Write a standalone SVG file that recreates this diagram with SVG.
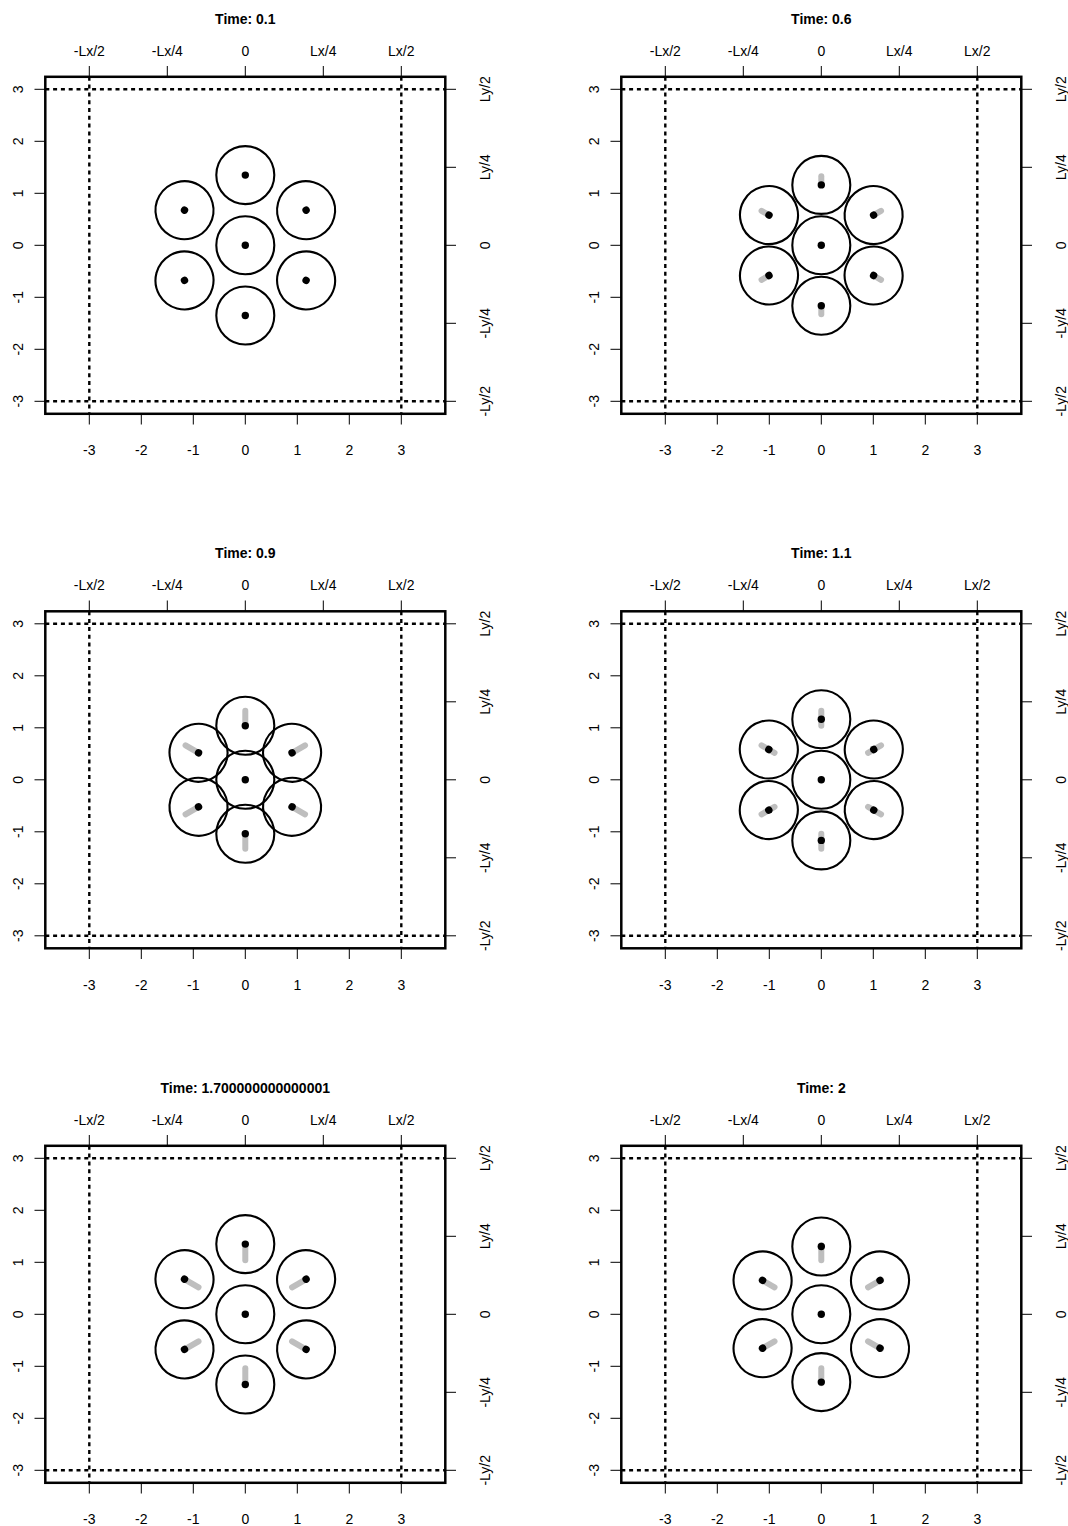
<svg xmlns="http://www.w3.org/2000/svg" width="1068" height="1526" viewBox="0 0 1068 1526">
<style>
.bg{fill:#fff}
.box{fill:none;stroke:#000;stroke-width:2.5}
.dash{fill:none;stroke:#000;stroke-width:2.4;stroke-dasharray:4 3.8}
.tick{fill:none;stroke:#000;stroke-width:1}
.lbl{font-family:"Liberation Sans",Arial,sans-serif;font-size:14px;fill:#000;text-anchor:middle}
.ttl{font-family:"Liberation Sans",Arial,sans-serif;font-size:14px;font-weight:bold;fill:#000;text-anchor:middle}
.ring{fill:none;stroke:#000;stroke-width:2.1}
.trail{fill:none;stroke:#bebebe;stroke-width:6;stroke-linecap:round}
.dot{fill:#000}
</style>
<defs>
<g id="frame">
<rect class="box" x="45.3" y="76.8" width="400" height="337"/>
<path class="dash" d="M89.3 76.8V413.8M401.3 76.8V413.8M45.3 89.3H445.3M45.3 401.3H445.3"/>
<path class="tick" d="M89.3 413.8V424.5M141.3 413.8V424.5M193.3 413.8V424.5M245.3 413.8V424.5M297.3 413.8V424.5M349.3 413.8V424.5M401.3 413.8V424.5M34.5 89.3H45.3M34.5 141.3H45.3M34.5 193.3H45.3M34.5 245.3H45.3M34.5 297.3H45.3M34.5 349.3H45.3M34.5 401.3H45.3M89.3 66V76.8M167.3 66V76.8M245.3 66V76.8M323.3 66V76.8M401.3 66V76.8M445.3 89.3H456M445.3 167.3H456M445.3 245.3H456M445.3 323.3H456M445.3 401.3H456"/>
<text class="lbl" x="89.3" y="455">-3</text>
<text class="lbl" x="141.3" y="455">-2</text>
<text class="lbl" x="193.3" y="455">-1</text>
<text class="lbl" x="245.3" y="455">0</text>
<text class="lbl" x="297.3" y="455">1</text>
<text class="lbl" x="349.3" y="455">2</text>
<text class="lbl" x="401.3" y="455">3</text>
<text class="lbl" x="89.3" y="55.5">-Lx/2</text>
<text class="lbl" x="167.3" y="55.5">-Lx/4</text>
<text class="lbl" x="245.3" y="55.5">0</text>
<text class="lbl" x="323.3" y="55.5">Lx/4</text>
<text class="lbl" x="401.3" y="55.5">Lx/2</text>
<text class="lbl" transform="translate(23 89.3) rotate(-90)">3</text>
<text class="lbl" transform="translate(23 141.3) rotate(-90)">2</text>
<text class="lbl" transform="translate(23 193.3) rotate(-90)">1</text>
<text class="lbl" transform="translate(23 245.3) rotate(-90)">0</text>
<text class="lbl" transform="translate(23 297.3) rotate(-90)">-1</text>
<text class="lbl" transform="translate(23 349.3) rotate(-90)">-2</text>
<text class="lbl" transform="translate(23 401.3) rotate(-90)">-3</text>
<text class="lbl" transform="translate(490 89.3) rotate(-90)">Ly/2</text>
<text class="lbl" transform="translate(490 167.3) rotate(-90)">Ly/4</text>
<text class="lbl" transform="translate(490 245.3) rotate(-90)">0</text>
<text class="lbl" transform="translate(490 323.3) rotate(-90)">-Ly/4</text>
<text class="lbl" transform="translate(490 401.3) rotate(-90)">-Ly/2</text>
</g>
</defs>
<rect class="bg" x="0" y="0" width="1068" height="1526"/>

<g id="panel-1" transform="translate(0 0)">
<use href="#frame"/>
<text class="ttl" x="245.3" y="23.5">Time: 0.1</text>
<g id="p1-c"><circle class="ring" cx="245.3" cy="245.3" r="29"/><circle class="dot" cx="245.3" cy="245.3" r="3.7"/></g>
<g id="p1-n1" transform="rotate(0 245.3 245.3)"><circle class="ring" cx="245.3" cy="175.1" r="29"/><circle class="dot" cx="245.3" cy="175.1" r="3.7"/></g>
<g id="p1-n2" transform="rotate(60 245.3 245.3)"><circle class="ring" cx="245.3" cy="175.1" r="29"/><circle class="dot" cx="245.3" cy="175.1" r="3.7"/></g>
<g id="p1-n3" transform="rotate(120 245.3 245.3)"><circle class="ring" cx="245.3" cy="175.1" r="29"/><circle class="dot" cx="245.3" cy="175.1" r="3.7"/></g>
<g id="p1-n4" transform="rotate(180 245.3 245.3)"><circle class="ring" cx="245.3" cy="175.1" r="29"/><circle class="dot" cx="245.3" cy="175.1" r="3.7"/></g>
<g id="p1-n5" transform="rotate(240 245.3 245.3)"><circle class="ring" cx="245.3" cy="175.1" r="29"/><circle class="dot" cx="245.3" cy="175.1" r="3.7"/></g>
<g id="p1-n6" transform="rotate(300 245.3 245.3)"><circle class="ring" cx="245.3" cy="175.1" r="29"/><circle class="dot" cx="245.3" cy="175.1" r="3.7"/></g>
</g>

<g id="panel-2" transform="translate(576 0)">
<use href="#frame"/>
<text class="ttl" x="245.3" y="23.5">Time: 0.6</text>
<g id="p2-c"><circle class="ring" cx="245.3" cy="245.3" r="29"/><circle class="dot" cx="245.3" cy="245.3" r="3.7"/></g>
<g id="p2-n1" transform="rotate(0 245.3 245.3)"><circle class="ring" cx="245.3" cy="184.9" r="29"/><line class="trail" x1="245.3" y1="184.9" x2="245.3" y2="176.3"/><circle class="dot" cx="245.3" cy="184.9" r="3.7"/></g>
<g id="p2-n2" transform="rotate(60 245.3 245.3)"><circle class="ring" cx="245.3" cy="184.9" r="29"/><line class="trail" x1="245.3" y1="184.9" x2="245.3" y2="176.3"/><circle class="dot" cx="245.3" cy="184.9" r="3.7"/></g>
<g id="p2-n3" transform="rotate(120 245.3 245.3)"><circle class="ring" cx="245.3" cy="184.9" r="29"/><line class="trail" x1="245.3" y1="184.9" x2="245.3" y2="176.3"/><circle class="dot" cx="245.3" cy="184.9" r="3.7"/></g>
<g id="p2-n4" transform="rotate(180 245.3 245.3)"><circle class="ring" cx="245.3" cy="184.9" r="29"/><line class="trail" x1="245.3" y1="184.9" x2="245.3" y2="176.3"/><circle class="dot" cx="245.3" cy="184.9" r="3.7"/></g>
<g id="p2-n5" transform="rotate(240 245.3 245.3)"><circle class="ring" cx="245.3" cy="184.9" r="29"/><line class="trail" x1="245.3" y1="184.9" x2="245.3" y2="176.3"/><circle class="dot" cx="245.3" cy="184.9" r="3.7"/></g>
<g id="p2-n6" transform="rotate(300 245.3 245.3)"><circle class="ring" cx="245.3" cy="184.9" r="29"/><line class="trail" x1="245.3" y1="184.9" x2="245.3" y2="176.3"/><circle class="dot" cx="245.3" cy="184.9" r="3.7"/></g>
</g>

<g id="panel-3" transform="translate(0 534.5)">
<use href="#frame"/>
<text class="ttl" x="245.3" y="23.5">Time: 0.9</text>
<g id="p3-c"><circle class="ring" cx="245.3" cy="245.3" r="29"/><circle class="dot" cx="245.3" cy="245.3" r="3.7"/></g>
<g id="p3-n1" transform="rotate(0 245.3 245.3)"><circle class="ring" cx="245.3" cy="191.3" r="29"/><line class="trail" x1="245.3" y1="191.3" x2="245.3" y2="176.3"/><circle class="dot" cx="245.3" cy="191.3" r="3.7"/></g>
<g id="p3-n2" transform="rotate(60 245.3 245.3)"><circle class="ring" cx="245.3" cy="191.3" r="29"/><line class="trail" x1="245.3" y1="191.3" x2="245.3" y2="176.3"/><circle class="dot" cx="245.3" cy="191.3" r="3.7"/></g>
<g id="p3-n3" transform="rotate(120 245.3 245.3)"><circle class="ring" cx="245.3" cy="191.3" r="29"/><line class="trail" x1="245.3" y1="191.3" x2="245.3" y2="176.3"/><circle class="dot" cx="245.3" cy="191.3" r="3.7"/></g>
<g id="p3-n4" transform="rotate(180 245.3 245.3)"><circle class="ring" cx="245.3" cy="191.3" r="29"/><line class="trail" x1="245.3" y1="191.3" x2="245.3" y2="176.3"/><circle class="dot" cx="245.3" cy="191.3" r="3.7"/></g>
<g id="p3-n5" transform="rotate(240 245.3 245.3)"><circle class="ring" cx="245.3" cy="191.3" r="29"/><line class="trail" x1="245.3" y1="191.3" x2="245.3" y2="176.3"/><circle class="dot" cx="245.3" cy="191.3" r="3.7"/></g>
<g id="p3-n6" transform="rotate(300 245.3 245.3)"><circle class="ring" cx="245.3" cy="191.3" r="29"/><line class="trail" x1="245.3" y1="191.3" x2="245.3" y2="176.3"/><circle class="dot" cx="245.3" cy="191.3" r="3.7"/></g>
</g>

<g id="panel-4" transform="translate(576 534.5)">
<use href="#frame"/>
<text class="ttl" x="245.3" y="23.5">Time: 1.1</text>
<g id="p4-c"><circle class="ring" cx="245.3" cy="245.3" r="29"/><circle class="dot" cx="245.3" cy="245.3" r="3.7"/></g>
<g id="p4-n1" transform="rotate(0 245.3 245.3)"><circle class="ring" cx="245.3" cy="184.7" r="29"/><line class="trail" x1="245.3" y1="191.3" x2="245.3" y2="176.3"/><circle class="dot" cx="245.3" cy="184.7" r="3.7"/></g>
<g id="p4-n2" transform="rotate(60 245.3 245.3)"><circle class="ring" cx="245.3" cy="184.7" r="29"/><line class="trail" x1="245.3" y1="191.3" x2="245.3" y2="176.3"/><circle class="dot" cx="245.3" cy="184.7" r="3.7"/></g>
<g id="p4-n3" transform="rotate(120 245.3 245.3)"><circle class="ring" cx="245.3" cy="184.7" r="29"/><line class="trail" x1="245.3" y1="191.3" x2="245.3" y2="176.3"/><circle class="dot" cx="245.3" cy="184.7" r="3.7"/></g>
<g id="p4-n4" transform="rotate(180 245.3 245.3)"><circle class="ring" cx="245.3" cy="184.7" r="29"/><line class="trail" x1="245.3" y1="191.3" x2="245.3" y2="176.3"/><circle class="dot" cx="245.3" cy="184.7" r="3.7"/></g>
<g id="p4-n5" transform="rotate(240 245.3 245.3)"><circle class="ring" cx="245.3" cy="184.7" r="29"/><line class="trail" x1="245.3" y1="191.3" x2="245.3" y2="176.3"/><circle class="dot" cx="245.3" cy="184.7" r="3.7"/></g>
<g id="p4-n6" transform="rotate(300 245.3 245.3)"><circle class="ring" cx="245.3" cy="184.7" r="29"/><line class="trail" x1="245.3" y1="191.3" x2="245.3" y2="176.3"/><circle class="dot" cx="245.3" cy="184.7" r="3.7"/></g>
</g>

<g id="panel-5" transform="translate(0 1069)">
<use href="#frame"/>
<text class="ttl" x="245.3" y="23.5">Time: 1.700000000000001</text>
<g id="p5-c"><circle class="ring" cx="245.3" cy="245.3" r="29"/><circle class="dot" cx="245.3" cy="245.3" r="3.7"/></g>
<g id="p5-n1" transform="rotate(0 245.3 245.3)"><circle class="ring" cx="245.3" cy="175.1" r="29"/><line class="trail" x1="245.3" y1="191.3" x2="245.3" y2="176.3"/><circle class="dot" cx="245.3" cy="175.1" r="3.7"/></g>
<g id="p5-n2" transform="rotate(60 245.3 245.3)"><circle class="ring" cx="245.3" cy="175.1" r="29"/><line class="trail" x1="245.3" y1="191.3" x2="245.3" y2="176.3"/><circle class="dot" cx="245.3" cy="175.1" r="3.7"/></g>
<g id="p5-n3" transform="rotate(120 245.3 245.3)"><circle class="ring" cx="245.3" cy="175.1" r="29"/><line class="trail" x1="245.3" y1="191.3" x2="245.3" y2="176.3"/><circle class="dot" cx="245.3" cy="175.1" r="3.7"/></g>
<g id="p5-n4" transform="rotate(180 245.3 245.3)"><circle class="ring" cx="245.3" cy="175.1" r="29"/><line class="trail" x1="245.3" y1="191.3" x2="245.3" y2="176.3"/><circle class="dot" cx="245.3" cy="175.1" r="3.7"/></g>
<g id="p5-n5" transform="rotate(240 245.3 245.3)"><circle class="ring" cx="245.3" cy="175.1" r="29"/><line class="trail" x1="245.3" y1="191.3" x2="245.3" y2="176.3"/><circle class="dot" cx="245.3" cy="175.1" r="3.7"/></g>
<g id="p5-n6" transform="rotate(300 245.3 245.3)"><circle class="ring" cx="245.3" cy="175.1" r="29"/><line class="trail" x1="245.3" y1="191.3" x2="245.3" y2="176.3"/><circle class="dot" cx="245.3" cy="175.1" r="3.7"/></g>
</g>

<g id="panel-6" transform="translate(576 1069)">
<use href="#frame"/>
<text class="ttl" x="245.3" y="23.5">Time: 2</text>
<g id="p6-c"><circle class="ring" cx="245.3" cy="245.3" r="29"/><circle class="dot" cx="245.3" cy="245.3" r="3.7"/></g>
<g id="p6-n1" transform="rotate(0 245.3 245.3)"><circle class="ring" cx="245.3" cy="177.5" r="29"/><line class="trail" x1="245.3" y1="191.3" x2="245.3" y2="176.3"/><circle class="dot" cx="245.3" cy="177.5" r="3.7"/></g>
<g id="p6-n2" transform="rotate(60 245.3 245.3)"><circle class="ring" cx="245.3" cy="177.5" r="29"/><line class="trail" x1="245.3" y1="191.3" x2="245.3" y2="176.3"/><circle class="dot" cx="245.3" cy="177.5" r="3.7"/></g>
<g id="p6-n3" transform="rotate(120 245.3 245.3)"><circle class="ring" cx="245.3" cy="177.5" r="29"/><line class="trail" x1="245.3" y1="191.3" x2="245.3" y2="176.3"/><circle class="dot" cx="245.3" cy="177.5" r="3.7"/></g>
<g id="p6-n4" transform="rotate(180 245.3 245.3)"><circle class="ring" cx="245.3" cy="177.5" r="29"/><line class="trail" x1="245.3" y1="191.3" x2="245.3" y2="176.3"/><circle class="dot" cx="245.3" cy="177.5" r="3.7"/></g>
<g id="p6-n5" transform="rotate(240 245.3 245.3)"><circle class="ring" cx="245.3" cy="177.5" r="29"/><line class="trail" x1="245.3" y1="191.3" x2="245.3" y2="176.3"/><circle class="dot" cx="245.3" cy="177.5" r="3.7"/></g>
<g id="p6-n6" transform="rotate(300 245.3 245.3)"><circle class="ring" cx="245.3" cy="177.5" r="29"/><line class="trail" x1="245.3" y1="191.3" x2="245.3" y2="176.3"/><circle class="dot" cx="245.3" cy="177.5" r="3.7"/></g>
</g>
</svg>
